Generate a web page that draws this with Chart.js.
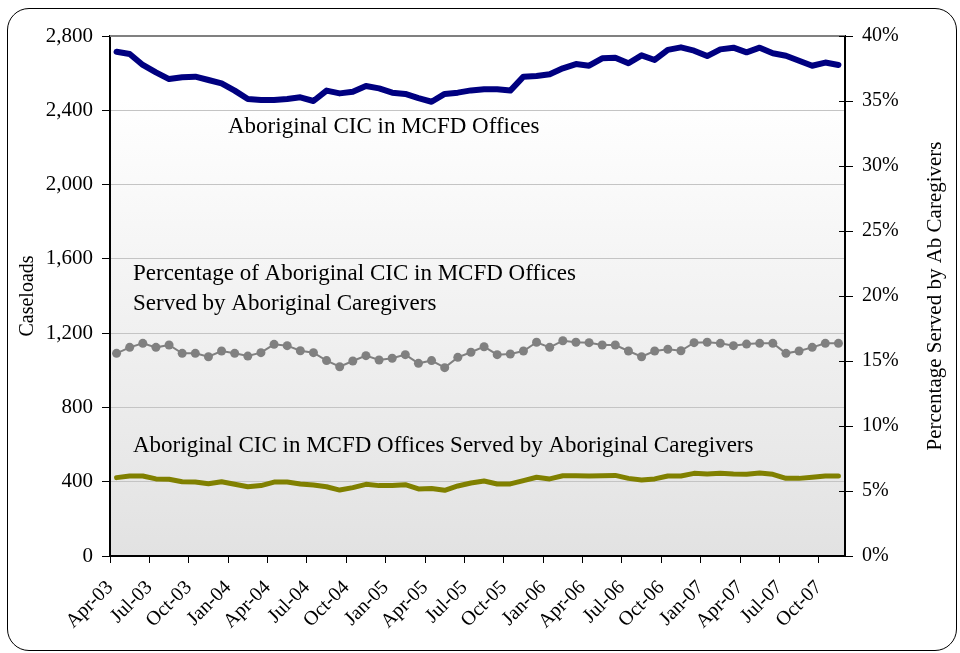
<!DOCTYPE html>
<html>
<head>
<meta charset="utf-8">
<script src="https://cdn.jsdelivr.net/npm/chart.js@4.4.1/dist/chart.umd.min.js"></script>
<style>
  html, body { margin: 0; padding: 0; background: #ffffff; }
  #wrap { position: relative; width: 960px; height: 653px; overflow: hidden; }
  #c { position: absolute; left: 0; top: 0; }
  #frame { position: absolute; left: 7px; top: 8px; width: 950px; height: 643px;
           border: 1px solid #000; border-radius: 22px; pointer-events: none; box-sizing: border-box; }
</style>
</head>
<body>
<div id="wrap">
  <canvas id="c" width="960" height="653"></canvas>
  <div id="frame"></div>
</div>
<script>
// Months (categories), Apr-03 .. Nov-07
const months = [
  "Apr-03","May-03","Jun-03","Jul-03","Aug-03","Sep-03","Oct-03","Nov-03","Dec-03",
  "Jan-04","Feb-04","Mar-04","Apr-04","May-04","Jun-04","Jul-04","Aug-04","Sep-04","Oct-04","Nov-04","Dec-04",
  "Jan-05","Feb-05","Mar-05","Apr-05","May-05","Jun-05","Jul-05","Aug-05","Sep-05","Oct-05","Nov-05","Dec-05",
  "Jan-06","Feb-06","Mar-06","Apr-06","May-06","Jun-06","Jul-06","Aug-06","Sep-06","Oct-06","Nov-06","Dec-06",
  "Jan-07","Feb-07","Mar-07","Apr-07","May-07","Jun-07","Jul-07","Aug-07","Sep-07","Oct-07","Nov-07"
];

// Tick labels on the x axis (every third month)
const tickLabels = ["Apr-03","Jul-03","Oct-03","Jan-04","Apr-04","Jul-04","Oct-04","Jan-05","Apr-05",
  "Jul-05","Oct-05","Jan-06","Apr-06","Jul-06","Oct-06","Jan-07","Apr-07","Jul-07","Oct-07"];

// Aboriginal CIC in MCFD Offices (caseloads)
const aboriginalCIC = [2715,2703,2644,2604,2568,2578,2581,2563,2545,2506,2461,2455,2455,2461,2470,2450,2506,2491,2500,2531,
  2518,2495,2488,2465,2446,2488,2495,2507,2513,2513,2506,2581,2585,2594,2626,2649,2640,2680,2683,2653,
  2696,2671,2725,2739,2721,2692,2728,2737,2712,2737,2707,2694,2667,2640,2657,2644];

// Percentage served by Aboriginal caregivers (%)
const pctServed = [15.59,16.05,16.36,16.05,16.23,15.59,15.59,15.33,15.77,15.59,15.38,15.64,16.28,16.18,15.79,15.64,15.03,14.56,15.0,15.41,
  15.08,15.21,15.49,14.82,15.03,14.49,15.28,15.67,16.1,15.49,15.54,15.77,16.44,16.05,16.56,16.44,16.41,16.23,16.23,15.77,
  15.33,15.77,15.9,15.79,16.41,16.44,16.36,16.18,16.3,16.36,16.36,15.59,15.77,16.05,16.36,16.36];

// Aboriginal CIC served by Aboriginal caregivers (caseloads)
const servedByAbCaregivers = [422,431,431,415,413,400,398,389,400,386,373,379,398,398,388,382,373,355,368,386,
  379,379,384,361,364,354,377,393,404,388,388,406,424,415,432,432,431,432,434,418,
  409,415,431,431,445,441,445,441,440,447,440,418,418,424,431,431];

const leftTicks = [0,400,800,1200,1600,2000,2400,2800];
const rightTicks = [0,5,10,15,20,25,30,35,40];

const FONT = '"Liberation Serif", "Times New Roman", serif';
const toPoints = arr => arr.map((v, i) => ({ x: i + 0.5, y: v }));

const decor = {
  id: 'decor',
  beforeDraw(chart) {
    const ctx = chart.ctx, a = chart.chartArea;
    ctx.save();
    ctx.fillStyle = '#ffffff';
    ctx.fillRect(0, 0, chart.width, chart.height);
    const g = ctx.createLinearGradient(0, a.top, 0, a.bottom);
    g.addColorStop(0, '#ffffff');
    g.addColorStop(0.12, '#ffffff');
    g.addColorStop(1, '#e2e2e2');
    ctx.fillStyle = g;
    ctx.fillRect(a.left, a.top, a.right - a.left, a.bottom - a.top);
    ctx.restore();
  },
  afterDraw(chart) {
    const ctx = chart.ctx, a = chart.chartArea;
    const y2 = chart.scales.y2;
    ctx.save();
    // top border of plot area
    ctx.strokeStyle = '#808080';
    ctx.lineWidth = 2;
    ctx.beginPath(); ctx.moveTo(a.left, a.top); ctx.lineTo(a.right, a.top); ctx.stroke();
    // inward part of right-axis ticks (crossing ticks)
    ctx.strokeStyle = '#000';
    ctx.lineWidth = 1;
    rightTicks.forEach(v => {
      const yy = Math.round(y2.getPixelForValue(v)) + 0.5;
      ctx.beginPath(); ctx.moveTo(a.right - 6, yy); ctx.lineTo(a.right, yy); ctx.stroke();
    });
    // annotations
    ctx.fillStyle = '#000';
    ctx.textBaseline = 'middle';
    ctx.textAlign = 'left';
    ctx.font = '23px ' + FONT;
    ctx.fillText('Aboriginal CIC in MCFD Offices', 228, 127);
    ctx.fillText('Percentage of Aboriginal CIC in MCFD Offices', 133, 274);
    ctx.fillText('Served by Aboriginal Caregivers', 133, 304);
    ctx.fillText('Aboriginal CIC in MCFD Offices Served by Aboriginal Caregivers', 133, 446);
    // axis titles
    ctx.font = '20px ' + FONT;
    ctx.textAlign = 'center';
    ctx.save();
    ctx.translate(28, (a.top + a.bottom) / 2);
    ctx.rotate(-Math.PI / 2);
    ctx.fillText('Caseloads', 0, 0);
    ctx.restore();
    ctx.font = '21px ' + FONT;
    ctx.save();
    ctx.translate(935, (a.top + a.bottom) / 2);
    ctx.rotate(-Math.PI / 2);
    ctx.fillText('Percentage Served by Ab Caregivers', 0, 0);
    ctx.restore();
    ctx.restore();
  }
};

new Chart(document.getElementById('c'), {
  type: 'line',
  data: {
    datasets: [
      {
        label: 'Aboriginal CIC in MCFD Offices',
        data: toPoints(aboriginalCIC),
        yAxisID: 'y',
        borderColor: '#000080',
        borderWidth: 6,
        pointRadius: 0,
        borderJoinStyle: 'round',
        borderCapStyle: 'round',
        tension: 0
      },
      {
        label: 'Percentage of Aboriginal CIC in MCFD Offices Served by Aboriginal Caregivers',
        data: toPoints(pctServed),
        yAxisID: 'y2',
        borderColor: '#808080',
        borderWidth: 2,
        pointRadius: 4.5,
        pointBackgroundColor: '#808080',
        pointBorderColor: '#808080',
        pointBorderWidth: 0,
        tension: 0
      },
      {
        label: 'Aboriginal CIC in MCFD Offices Served by Aboriginal Caregivers',
        data: toPoints(servedByAbCaregivers),
        yAxisID: 'y',
        borderColor: '#808000',
        borderWidth: 5,
        pointRadius: 0,
        borderJoinStyle: 'round',
        borderCapStyle: 'round',
        tension: 0
      }
    ]
  },
  options: {
    responsive: false,
    animation: false,
    events: [],
    layout: { padding: { top: 36, left: 0, right: 0, bottom: 0 } },
    plugins: { legend: { display: false }, tooltip: { enabled: false } },
    scales: {
      x: {
        type: 'linear',
        position: 'bottom',
        min: 0,
        max: months.length,
        afterBuildTicks: s => { s.ticks = tickLabels.map((_, i) => ({ value: i * 3 })); },
        afterFit: s => { s.height = 97; },
        ticks: {
          autoSkip: false,
          maxRotation: 45,
          minRotation: 45,
          padding: 13,
          color: '#000',
          font: { family: FONT, size: 20 },
          callback: v => tickLabels[Math.round(v / 3)]
        },
        grid: { display: true, drawOnChartArea: false, drawTicks: true, tickLength: 7, color: '#000', lineWidth: 1 },
        border: { display: true, color: '#000', width: 2 }
      },
      y: {
        position: 'left',
        min: 0,
        max: 2800,
        afterBuildTicks: s => { s.ticks = leftTicks.map(v => ({ value: v })); },
        afterFit: s => { s.width = 110; },
        ticks: {
          padding: 9,
          color: '#000',
          font: { family: FONT, size: 21 },
          callback: v => v.toLocaleString('en-US')
        },
        grid: { color: '#c4c4c4', lineWidth: 1, tickColor: '#000', tickLength: 8, drawTicks: true },
        border: { display: true, color: '#000', width: 2 }
      },
      y2: {
        position: 'right',
        min: 0,
        max: 40,
        afterBuildTicks: s => { s.ticks = rightTicks.map(v => ({ value: v })); },
        afterFit: s => { s.width = 115; },
        ticks: {
          padding: 9,
          color: '#000',
          font: { family: FONT, size: 20 },
          callback: v => v + '%'
        },
        grid: { drawOnChartArea: false, color: '#000', tickLength: 8, drawTicks: true },
        border: { display: true, color: '#000', width: 2 }
      }
    }
  },
  plugins: [decor]
});
</script>
</body>
</html>
